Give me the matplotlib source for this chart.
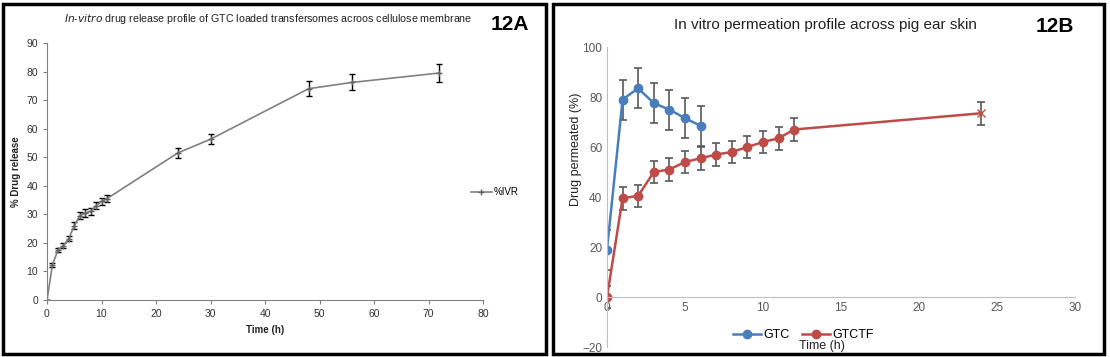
import matplotlib
matplotlib.use("Agg")
import matplotlib.pyplot as plt
from matplotlib.patches import Rectangle
from matplotlib.lines import Line2D

# 12A data
time_a = [0, 1, 2, 3, 4, 5, 6, 7, 8, 9, 10, 11, 24, 30, 48, 56, 72]
ivr = [0, 12.3, 17.5, 19, 21.5, 26, 29.5, 30.5, 31, 33, 34.5, 35.5, 51.5, 56.3, 74, 76.2, 79.5]
ivr_err = [0, 0.6, 0.6, 0.8, 1.0, 1.3, 1.2, 1.3, 1.3, 1.3, 1.3, 1.3, 1.8, 1.8, 2.6, 2.8, 3.0]

# 12B data
time_gtc = [0, 1, 2, 3, 4, 5, 6]
gtc = [19, 79, 83.5, 77.5, 75, 71.5, 68.5]
gtc_err = [8, 8, 8, 8, 8, 8, 8]
time_tf = [0, 1, 2, 3, 4, 5, 6, 7, 8, 9, 10, 11, 12, 24]
gtctf = [0, 39.5, 40.5, 50, 51, 54, 55.5, 57, 58, 60, 62, 63.5, 67, 73.5]
gtctf_err = [4.5, 4.5, 4.5, 4.5, 4.5, 4.5, 4.5, 4.5, 4.5, 4.5, 4.5, 4.5, 4.5, 4.5]

plt.rcParams['font.family'] = ['Liberation Sans', 'DejaVu Sans']

fig = plt.figure(figsize=(11.1, 3.57), dpi=100)

# panel borders
for x0, w in [(3, 543), (553, 551)]:
    fig.add_artist(Rectangle((x0 / 1110, 3 / 357), w / 1110, 350 / 357,
                             transform=fig.transFigure, fill=False,
                             edgecolor='black', lw=2.5))

# ---- 12A ----
ax1 = fig.add_axes([47 / 1110, 1 - 300 / 357, 436 / 1110, 257 / 357])
ax1.errorbar(time_a, ivr, yerr=ivr_err, color='#808080', lw=1.2,
             marker='+', ms=4, mec='#606060', ecolor='black', elinewidth=1,
             capsize=2.5, capthick=1)
ax1.set_xlim(0, 80)
ax1.set_ylim(0, 90)
ax1.set_xticks(range(0, 81, 10))
ax1.set_yticks(range(0, 91, 10))
for s in ['top', 'right']:
    ax1.spines[s].set_visible(False)
for s in ['left', 'bottom']:
    ax1.spines[s].set_color('#808080')
ax1.tick_params(colors='#808080', labelcolor='#333333', labelsize=7.5, length=3)
ax1.set_xlabel('Time (h)', fontsize=7, fontweight='bold', color='#222222')
ax1.set_ylabel('% Drug release', fontsize=7, fontweight='bold', color='#222222')
h_ivr = Line2D([], [], color='#808080', lw=1.2, marker='+', ms=4, mec='#606060')
fig.legend([h_ivr], ['%IVR'], loc='center left',
           bbox_to_anchor=(462 / 1110, 1 - 192 / 357),
           frameon=False, fontsize=7, handlelength=2.2, handletextpad=0.2)
fig.text(268 / 1110, 1 - 19 / 357,
         r'$\mathit{In}$-$\mathit{vitro}$ drug release profile of GTC loaded transfersomes acroos cellulose membrane',
         ha='center', va='center', fontsize=7.7, color='#222222')
fig.text(510 / 1110, 1 - 25 / 357, '12A', ha='center', va='center',
         fontsize=15, fontweight='bold')

# ---- 12B ----
ax2 = fig.add_axes([607 / 1110, 1 - 347 / 357, 468 / 1110, 300 / 357])
ax2.errorbar(time_gtc, gtc, yerr=gtc_err, color='#4a7ebb', lw=1.8,
             marker='o', ms=6, ecolor='#595959', elinewidth=1.2,
             capsize=3, capthick=1.2)
ax2.errorbar(time_tf[:-1], gtctf[:-1], yerr=gtctf_err[:-1], color='#be4b48', lw=1.8,
             marker='o', ms=6, ecolor='#595959', elinewidth=1.2,
             capsize=3, capthick=1.2)
ax2.plot(time_tf[-2:], gtctf[-2:], color='#be4b48', lw=1.8)
ax2.errorbar(time_tf[-1:], gtctf[-1:], yerr=gtctf_err[-1:], color='#be4b48',
             marker='x', ms=6, ecolor='#595959', elinewidth=1.2,
             capsize=3, capthick=1.2, ls='none')
ax2.set_xlim(0, 30)
ax2.set_ylim(-20, 100)
ax2.set_xticks(range(0, 31, 5))
ax2.set_yticks(range(-20, 101, 20))
ax2.spines['bottom'].set_position(('data', 0))
ax2.spines['left'].set_position(('data', 0))
for s in ['top', 'right']:
    ax2.spines[s].set_visible(False)
for s in ['left', 'bottom']:
    ax2.spines[s].set_color('#bfbfbf')
ax2.tick_params(length=0, labelsize=8.5, labelcolor='#595959')
ax2.set_ylabel('Drug permeated (%)', fontsize=9, color='#222222')
ax2.yaxis.set_label_coords((582 - 607) / 468, 0.66)
h_gtc = Line2D([], [], color='#4a7ebb', lw=1.8, marker='o', ms=6)
h_tf = Line2D([], [], color='#be4b48', lw=1.8, marker='o', ms=6)
ax2.legend([h_gtc, h_tf], ['GTC', 'GTCTF'], loc='center',
           bbox_to_anchor=(0.42, 0.04), ncol=2, frameon=False, fontsize=9,
           handlelength=2.2, handletextpad=0.2, columnspacing=1.0)
fig.text(822 / 1110, 1 - 346 / 357, 'Time (h)', ha='center', va='center',
         fontsize=9, color='#222222')
fig.text(825 / 1110, 1 - 25 / 357, 'In vitro permeation profile across pig ear skin',
         ha='center', va='center', fontsize=11, color='#222222')
fig.text(1055 / 1110, 1 - 27 / 357, '12B', ha='center', va='center',
         fontsize=15, fontweight='bold')

fig.savefig('out.png', dpi=100)
